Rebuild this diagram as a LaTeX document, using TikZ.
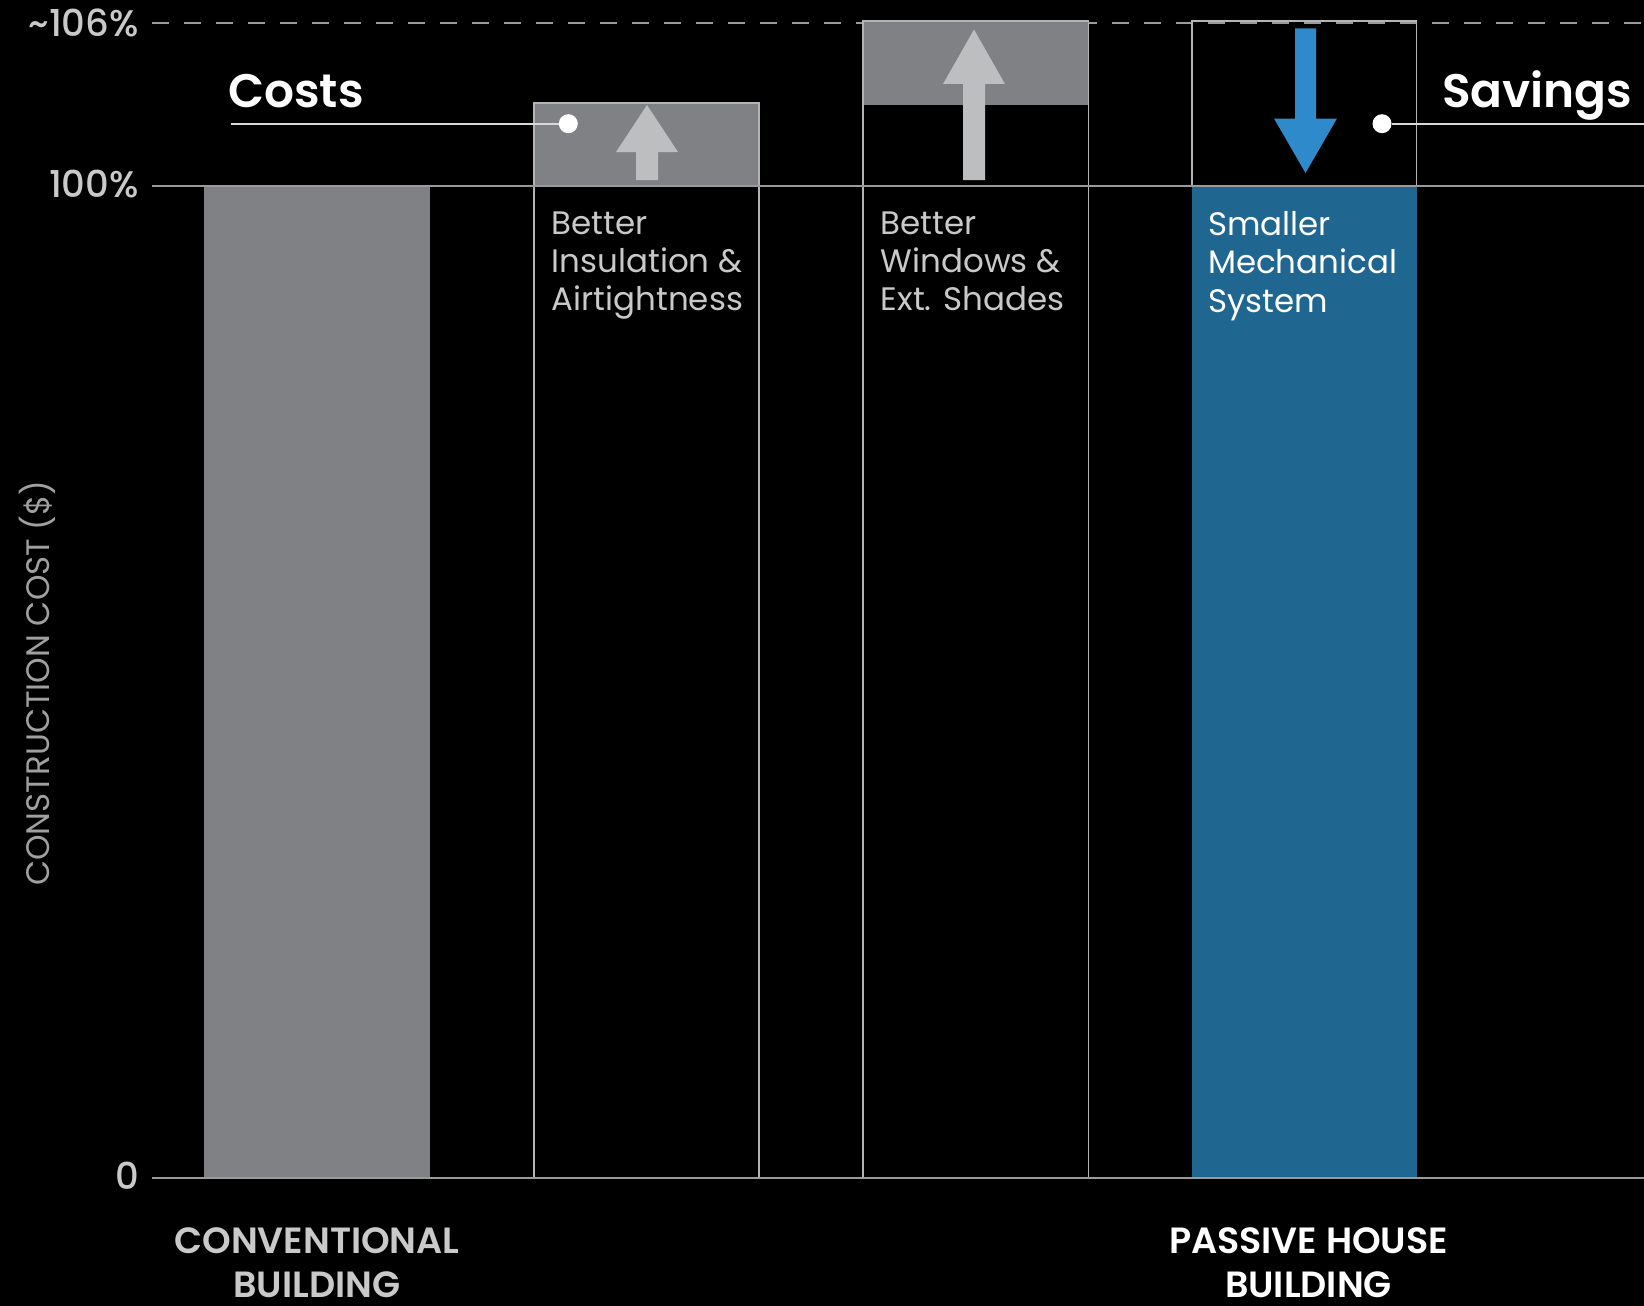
\documentclass[tikz,border=0pt]{standalone}
\usepackage{fontspec}
\setmainfont{Poppins}[BoldFont={Poppins Medium}]
\newfontfamily\poppsemi{Poppins SemiBold}
\definecolor{bargray}{HTML}{808184}
\definecolor{arrgray}{HTML}{BDBEC0}
\definecolor{barblue}{HTML}{1F6690}
\definecolor{arrblue}{HTML}{2E8ACB}
\definecolor{gridc}{HTML}{9A9A9A}
\definecolor{outl}{HTML}{B4B4B4}
\definecolor{txtgray}{HTML}{C9C9C9}
\definecolor{axgray}{HTML}{A0A0A0}
\begin{document}
\begin{tikzpicture}[x=1pt,y=-1pt,
  grid/.style={draw=gridc,line width=2pt},
  colout/.style={draw=outl,line width=1.6pt},
  ylab/.style={anchor=east,inner sep=0pt,text=txtgray,font=\fontsize{37}{37}\selectfont\bfseries},
  barlab/.style={anchor=north west,inner sep=0pt,align=left,text=txtgray,font=\fontsize{32.5}{38.2}\selectfont},
  biglab/.style={inner sep=0pt,text=white,font=\fontsize{47}{47}\selectfont\poppsemi},
  botlab/.style={anchor=north,inner sep=0pt,align=center,font=\fontsize{36.5}{44}\selectfont\poppsemi},
  leader/.style={draw=white!85!black,line width=2pt},
  dotc/.style={circle,fill=white,inner sep=0pt,minimum size=19pt}]
\fill[black] (0,0) rectangle (1644,1306);
\useasboundingbox (0,0) rectangle (1644,1306);

% axis labels
\node[ylab] (l106) at (139,23) {\textasciitilde106\%};
\node[ylab] (l100) at (139,184) {100\%};
\node[ylab] (l0) at (139,1176) {0};
\node[rotate=90,inner sep=0pt,text=axgray,font=\fontsize{32.5}{33}\selectfont] (ytitle) at (37,683) {CONSTRUCTION COST (\$)};

% dashed ~106% line
\draw[draw=gridc,line width=2pt,dash pattern=on 17pt off 15pt] (152,23) -- (1644,23);

% bars
\fill[bargray] (203.5,186) rectangle (430,1177.5);
\fill[bargray] (533.7,103) rectangle (759.1,186);
\draw[colout] (533.7,103) rectangle (759.1,1177.5);
\fill[bargray] (862.9,21) rectangle (1088.3,105);
\draw[colout] (862.9,21) rectangle (1088.3,1177.5);
\fill[barblue] (1192.2,186) rectangle (1416.5,1177.5);
\draw[colout] (1192.2,21) rectangle (1416.5,186);

% grid lines
\draw[grid] (152,186) -- (1644,186);
\draw[grid] (152,1177.5) -- (1644,1177.5);

% arrows
\fill[arrgray] (647,105) -- (678,152) -- (658,152) -- (658,180) -- (636,180) -- (636,152) -- (616,152) -- cycle;
\fill[arrgray] (974,29.5) -- (1005,84) -- (985,84) -- (985,180) -- (963,180) -- (963,84) -- (943,84) -- cycle;
\fill[arrblue] (1305.5,173) -- (1337,118.5) -- (1316,118.5) -- (1316,28.5) -- (1295,28.5) -- (1295,118.5) -- (1274,118.5) -- cycle;

% bar labels
\node[barlab] (ins) at (551.5,211.5) {Better\\Insulation \&\\Airtightness};
\node[barlab] (win) at (880.7,211.5) {Better\\Windows \&\\Ext. Shades};
\node[barlab,text=white] (mech) at (1207.9,211.5) {Smaller\\Mechanical\\System};

% costs / savings
\node[biglab,anchor=base west] (costs) at (228,107) {Costs};
\node[biglab,anchor=base west] (savings) at (1442,107) {Savings};
\node[dotc] (cdot) at (568.3,123.7) {};
\node[dotc] (sdot) at (1382,123.7) {};
\coordinate (cstart) at (230.7,123.7);
\coordinate (send) at (1644,123.7);
\draw[leader] (cstart) -- (cdot);
\draw[leader] (sdot) -- (send);

% bottom labels
\node[botlab,text=txtgray] (conv) at (317,1227) {CONVENTIONAL\\BUILDING};
\node[botlab,text=white] (phb) at (1308.5,1227) {PASSIVE HOUSE\\BUILDING};
\end{tikzpicture}
\end{document}
